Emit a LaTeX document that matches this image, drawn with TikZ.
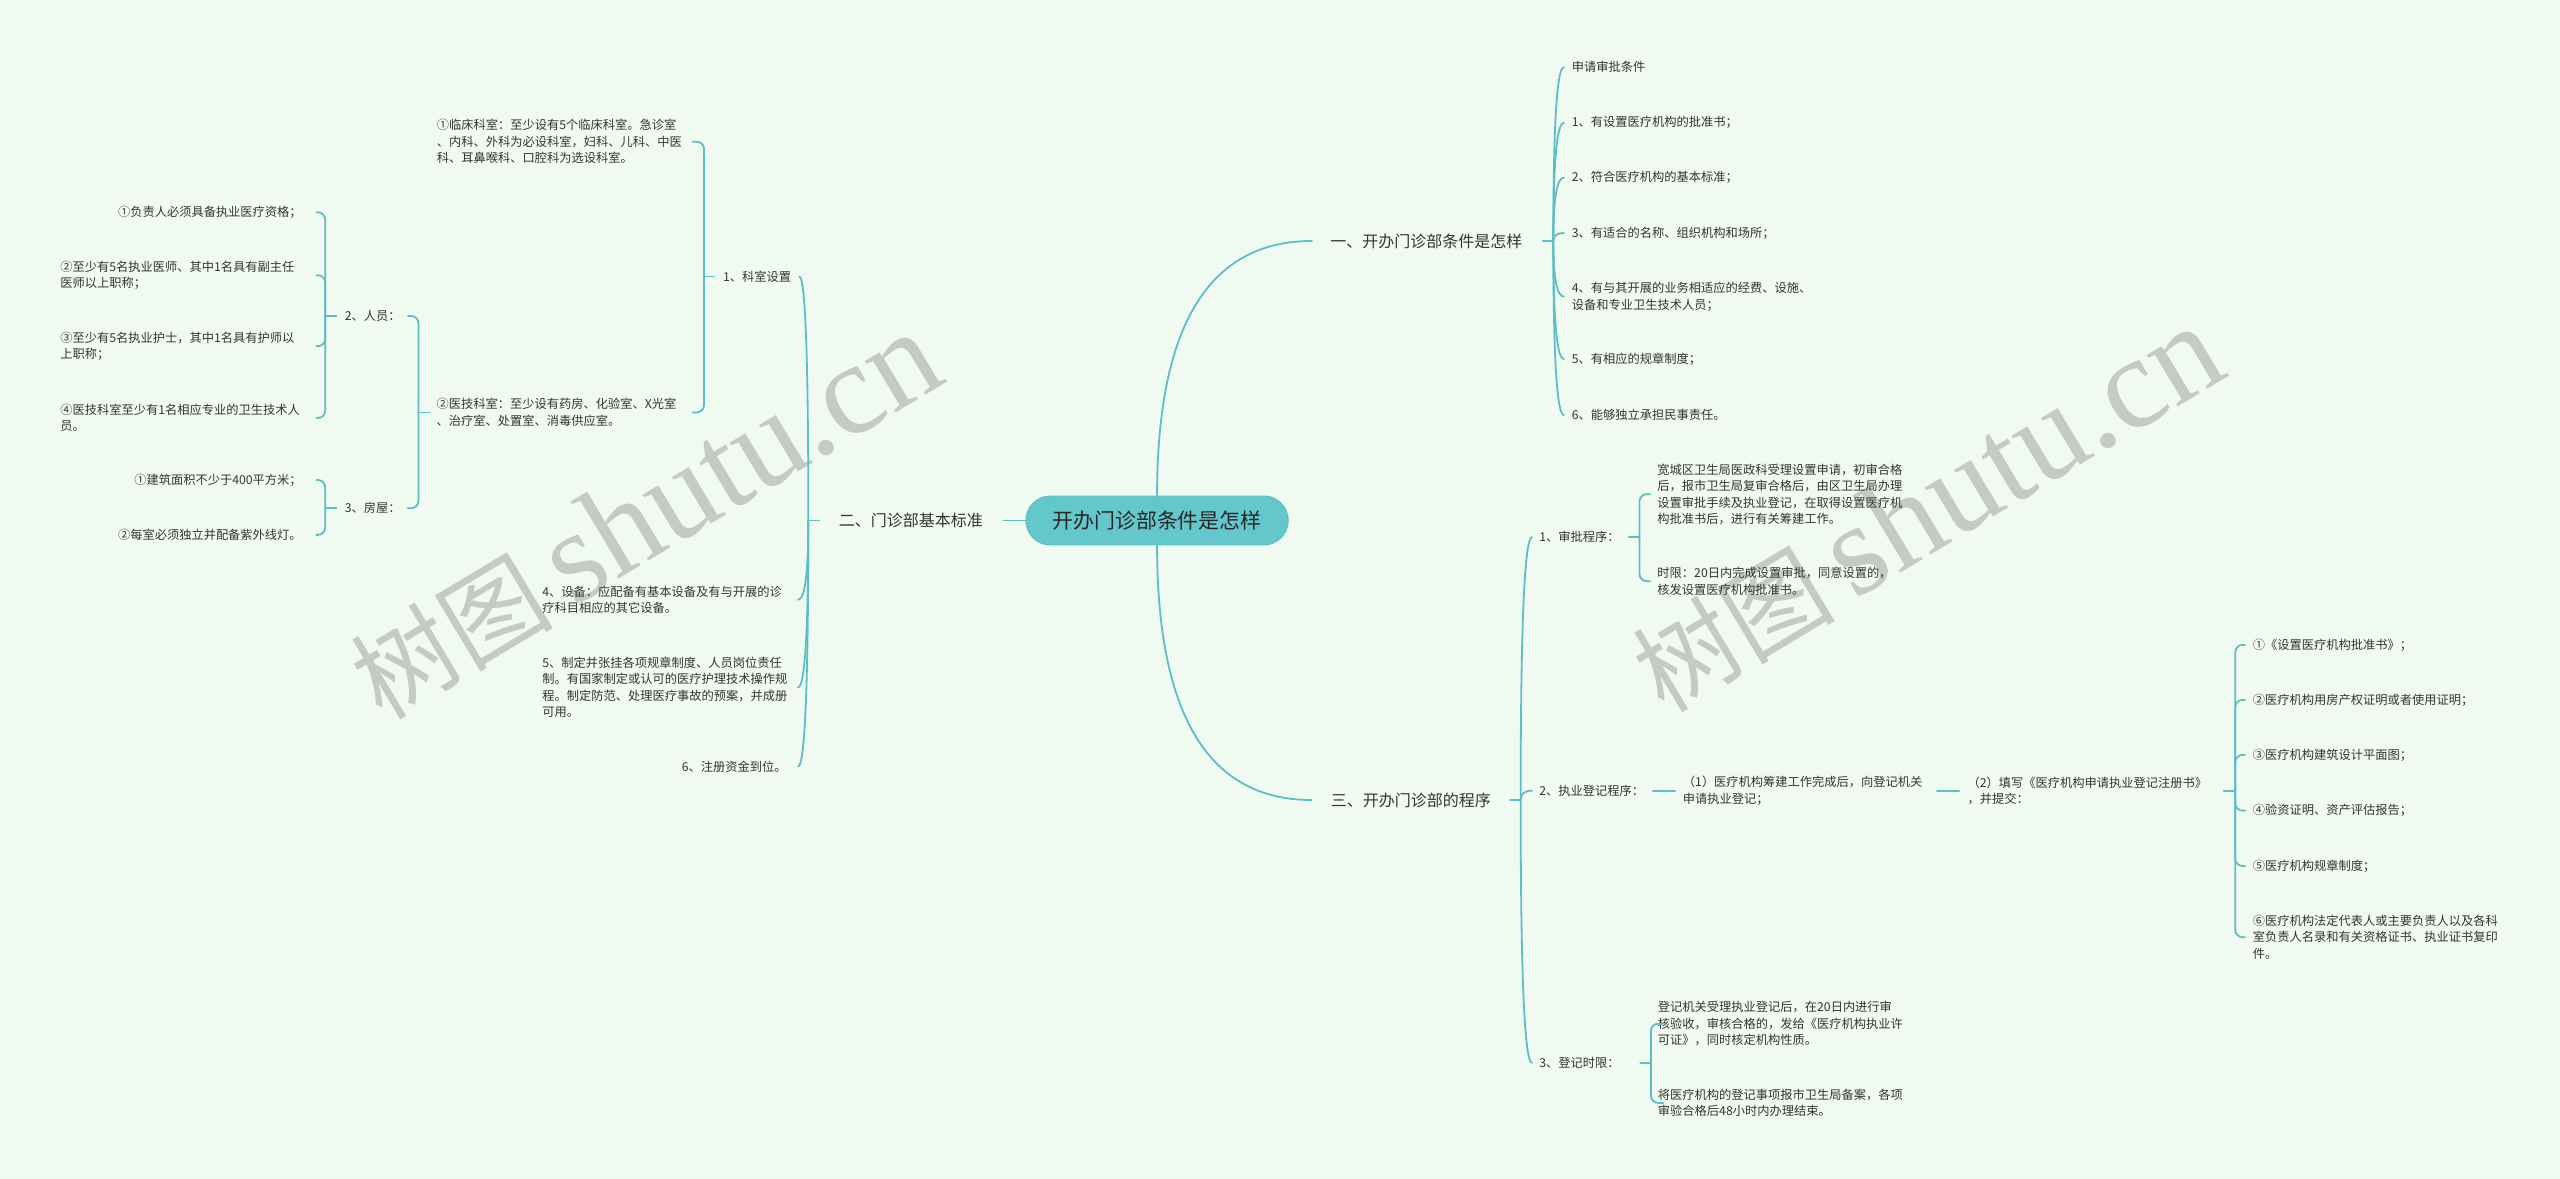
\documentclass[tikz,border=0pt]{standalone}
\usepackage{fontspec}
\setmainfont{Noto Sans CJK SC}
\newfontfamily\wmlatin{Liberation Serif}
\usetikzlibrary{calc}
\definecolor{bg}{HTML}{F1FAF1}
\definecolor{ln}{HTML}{5CBEC6}
\definecolor{rootfill}{HTML}{63C7CC}
\definecolor{txt}{HTML}{333333}
\definecolor{wmc}{HTML}{C4CAC5}
\newcommand\gcurve[2]{%
  \coordinate (gq) at (#1 |- #2);
  \draw[conn] (#1) .. controls ($(#1)!0.6667!(gq)$) and ($(#2)!0.6667!(gq)$) .. (#2);}
\newcommand\gchild[3]{%
  \coordinate (#2E) at ($(#1 |- #2.west)+(#3,0)$);
  \gcurve{#1}{#2E}}
\newcommand\bchild[3]{%
  \draw[bracket] (#1) -- (#1 |- #2.west) -- ++(#3,0);}
\begin{document}
\begin{tikzpicture}[x=1pt,y=-1pt,
  conn/.style={draw=ln, line width=1.1pt, line cap=round},
  bracket/.style={conn, rounded corners=4.5pt},
  small/.style={font=\fontsize{7.5}{10.1}\selectfont, text=txt, inner sep=0pt, align=left},
  lvl/.style={font=\fontsize{9.8}{12}\selectfont, text=txt, inner sep=0pt},
  rootbox/.style={draw=ln, line width=0.6pt, fill=rootfill, rounded corners=15pt,
    minimum width=160.7pt, minimum height=30pt, inner sep=0pt,
    font=\fontsize{12.8}{14}\selectfont, text=black!85},
  wm/.style={text=wmc, inner sep=0pt, rotate=31}]
\useasboundingbox (0,0) rectangle (1568,722);
\fill[bg] (0,0) rectangle (1568,722);

% watermarks
\node[wm] (wm1) at (395,316) {\fontsize{62}{62}\selectfont 树图\hspace{12pt}{\wmlatin\fontsize{80}{80}\selectfont shutu.cn}};
\node[wm] (wm2) at (1180,312) {\fontsize{62}{62}\selectfont 树图\hspace{12pt}{\wmlatin\fontsize{80}{80}\selectfont shutu.cn}};

% root and main branches
\node[rootbox] (root) at (708.7,318.8) {开办门诊部条件是怎样};
\node[lvl, anchor=west] (b1) at (814.6,147.6) {一、开办门诊部条件是怎样};
\node[lvl, anchor=east] (b2) at (602.2,318.8) {二、门诊部基本标准};
\node[lvl, anchor=west] (b3) at (815,490) {三、开办门诊部的程序};
\coordinate (rN) at (root.north);
\coordinate (rS) at (root.south);
\coordinate (b1E) at ($(b1.west)+(-11,0)$);
\coordinate (b3E) at ($(b3.west)+(-11.7,0)$);
\gcurve{rN}{b1E}
\gcurve{rS}{b3E}
\draw[conn] (root.west) -- ($(b2.east)+(12.3,0)$);

% branch 1 children
\coordinate (J1) at ($(b1.east)+(18.8,0)$);
\draw[conn] ($(b1.east)+(12.3,0)$) -- (J1);
\node[small, anchor=west] (c11) at (962.6,41.2) {申请审批条件};
\node[small, anchor=west] (c12) at (962.6,75.1) {1、有设置医疗机构的批准书；};
\node[small, anchor=west] (c13) at (962.6,108.8) {2、符合医疗机构的基本标准；};
\node[small, anchor=west] (c14) at (962.6,142.7) {3、有适合的名称、组织机构和场所；};
\node[small, anchor=west] (c15) at (962.6,181.7) {4、有与其开展的业务相适应的经费、设施、\\设备和专业卫生技术人员；};
\node[small, anchor=west] (c16) at (962.6,220) {5、有相应的规章制度；};
\node[small, anchor=west] (c17) at (962.6,254.2) {6、能够独立承担民事责任。};
\gchild{J1}{c11}{6.5}
\gchild{J1}{c12}{6.5}
\gchild{J1}{c13}{6.5}
\gchild{J1}{c14}{6.5}
\gchild{J1}{c15}{6.5}
\gchild{J1}{c16}{6.5}
\gchild{J1}{c17}{6.5}

% branch 2 children
\coordinate (J2) at ($(b2.west)+(-18.5,0)$);
\draw[conn] ($(b2.west)+(-11.8,0)$) -- (J2);
\node[small, anchor=east] (d1) at (484.8,169.4) {1、科室设置};
\node[small, anchor=west] (d4) at (332,367.4) {4、设备：应配备有基本设备及有与开展的诊\\疗科目相应的其它设备。};
\node[small, anchor=west] (d5) at (332,421) {5、制定并张挂各项规章制度、人员岗位责任\\制。有国家制定或认可的医疗护理技术操作规\\程。制定防范、处理医疗事故的预案，并成册\\可用。};
\node[small, anchor=east] (d6) at (482,469.5) {6、注册资金到位。};
\gchild{J2}{d1}{-5.5}
\gchild{J2}{d4}{-6.3}
\gchild{J2}{d5}{-6.3}
\gchild{J2}{d6}{-6.3}

% 1、科室设置 children
\coordinate (v1) at ($(d1.west)+(-11.5,0)$);
\draw[conn] ($(d1.west)+(-5.5,0)$) -- (v1);
\node[small, anchor=west] (e1) at (267.4,86.8) {①临床科室：至少设有5个临床科室。急诊室\\、内科、外科为必设科室，妇科、儿科、中医\\科、耳鼻喉科、口腔科为选设科室。};
\node[small, anchor=west] (e2) at (267.3,252.6) {②医技科室：至少设有药房、化验室、X光室\\、治疗室、处置室、消毒供应室。};
\bchild{v1}{e1}{-7}
\bchild{v1}{e2}{-7}

% ②医技科室 children
\coordinate (v2) at ($(e2.west)+(-11,0)$);
\draw[conn] ($(e2.west)+(-4,0)$) -- (v2);
\node[small, anchor=west] (f1) at (211,193.5) {2、人员：};
\node[small, anchor=west] (f2) at (211,311.3) {3、房屋：};
\bchild{v2}{f1}{-6.5}
\bchild{v2}{f2}{-6.5}

% 2、人员 children
\coordinate (v3) at ($(f1.west)+(-11.8,0)$);
\draw[conn] ($(f1.west)+(-5,0)$) -- (v3);
\node[small, anchor=east] (g1) at (185,130) {①负责人必须具备执业医疗资格；};
\node[small, anchor=west] (g2) at (36.8,168.6) {②至少有5名执业医师、其中1名具有副主任\\医师以上职称；};
\node[small, anchor=west] (g3) at (36.8,212) {③至少有5名执业护士，其中1名具有护师以\\上职称；};
\node[small, anchor=west] (g4) at (36.8,256) {④医技科室至少有1名相应专业的卫生技术人\\员。};
\bchild{v3}{g1}{-5.4}
\bchild{v3}{g2}{-5.4}
\bchild{v3}{g3}{-5.4}
\bchild{v3}{g4}{-5.4}

% 3、房屋 children
\coordinate (v4) at ($(f2.west)+(-11.8,0)$);
\draw[conn] ($(f2.west)+(-5,0)$) -- (v4);
\node[small, anchor=east] (h1) at (185,294) {①建筑面积不少于400平方米；};
\node[small, anchor=east] (h2) at (185,327.6) {②每室必须独立并配备紫外线灯。};
\bchild{v4}{h1}{-5.4}
\bchild{v4}{h2}{-5.4}

% branch 3 children
\coordinate (J3) at ($(b3.east)+(18,0)$);
\draw[conn] ($(b3.east)+(11.7,0)$) -- (J3);
\node[small, anchor=west] (k1) at (942.6,329) {1、审批程序：};
\node[small, anchor=west] (k2) at (942.6,484.3) {2、执业登记程序：};
\node[small, anchor=west] (k3) at (942.6,651) {3、登记时限：};
\gchild{J3}{k1}{7}
\gchild{J3}{k2}{7}
\gchild{J3}{k3}{7}

% 1、审批程序 children
\coordinate (v5) at ($(k1.east)+(12,0)$);
\draw[conn] ($(k1.east)+(5.5,0)$) -- (v5);
\node[small, anchor=west] (m1) at (1015,302.7) {宽城区卫生局医政科受理设置申请，初审合格\\后，报市卫生局复审合格后，由区卫生局办理\\设置审批手续及执业登记，在取得设置医疗机\\构批准书后，进行有关筹建工作。};
\node[small, anchor=west] (m2) at (1015,356) {时限：20日内完成设置审批，同意设置的，\\核发设置医疗机构批准书。};
\bchild{v5}{m1}{6.6}
\bchild{v5}{m2}{6.6}

% 3、登记时限 children
\coordinate (v6) at ($(k3.east)+(19,0)$);
\draw[conn] ($(k3.east)+(12.5,0)$) -- (v6);
\node[small, anchor=west] (p1) at (1015.3,627) {登记机关受理执业登记后，在20日内进行审\\核验收，审核合格的，发给《医疗机构执业许\\可证》，同时核定机构性质。};
\node[small, anchor=west] (p2) at (1015.3,675.5) {将医疗机构的登记事项报市卫生局备案，各项\\审验合格后48小时内办理结束。};
\bchild{v6}{p1}{7.6}
\bchild{v6}{p2}{7.6}

% 2、执业登记程序 chain
\node[small, anchor=west] (n1) at (1030.6,484.3) {（1）医疗机构筹建工作完成后，向登记机关\\申请执业登记；};
\node[small, anchor=west] (n2) at (1205,484.3) {（2）填写《医疗机构申请执业登记注册书》\\，并提交：};
\draw[conn] ($(k2.east)+(5.2,0)$) -- ($(n1.west)+(-4.6,0)$);
\draw[conn] ($(n1.east)+(8.8,0)$) -- ($(n2.west)+(-5,0)$);
\coordinate (v7) at ($(n2.east)+(17,0)$);
\draw[conn] ($(n2.east)+(10,0)$) -- (v7);
\node[small, anchor=west] (q1) at (1379.7,395) {①《设置医疗机构批准书》；};
\node[small, anchor=west] (q2) at (1379.7,428.7) {②医疗机构用房产权证明或者使用证明；};
\node[small, anchor=west] (q3) at (1379.7,462.4) {③医疗机构建筑设计平面图；};
\node[small, anchor=west] (q4) at (1379.7,496.5) {④验资证明、资产评估报告；};
\node[small, anchor=west] (q5) at (1379.7,530.4) {⑤医疗机构规章制度；};
\node[small, anchor=west] (q6) at (1379.7,574) {⑥医疗机构法定代表人或主要负责人以及各科\\室负责人名录和有关资格证书、执业证书复印\\件。};
\bchild{v7}{q1}{6}
\bchild{v7}{q2}{6}
\bchild{v7}{q3}{6}
\bchild{v7}{q4}{6}
\bchild{v7}{q5}{6}
\bchild{v7}{q6}{6}
\end{tikzpicture}
\end{document}
